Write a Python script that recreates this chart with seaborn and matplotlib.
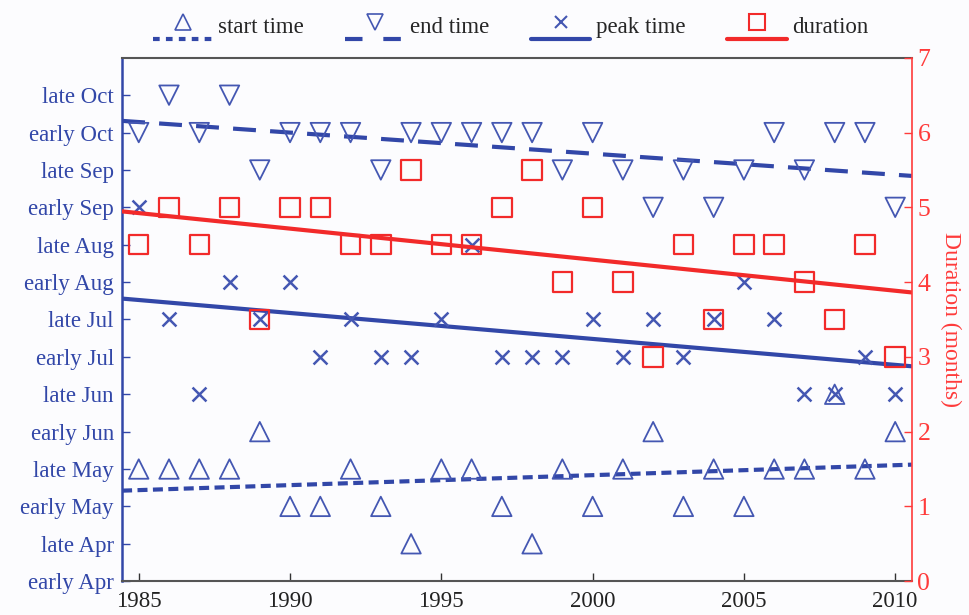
import numpy as np
import pandas as pd
import seaborn as sns
import matplotlib
matplotlib.use("Agg")
import matplotlib.pyplot as plt
from matplotlib.lines import Line2D
from matplotlib.legend_handler import HandlerBase

# ---------------- data ----------------
years = list(range(1985, 2011))
period_labels = ["early Apr", "late Apr", "early May", "late May", "early Jun", "late Jun",
                 "early Jul", "late Jul", "early Aug", "late Aug", "early Sep", "late Sep",
                 "early Oct", "late Oct"]
# index into period_labels
start_time = [3, 3, 3, 3, 4, 2, 2, 3, 2, 1, 3, 3, 2, 1, 3, 2, 3, 4, 2, 3, 2, 3, 3, 5, 3, 4]
end_time = [12, 13, 12, 13, 11, 12, 12, 12, 11, 12, 12, 12, 12, 12, 11, 12, 11, 10, 11, 10,
            11, 12, 11, 12, 12, 10]
peak_time = [10, 7, 5, 8, 7, 8, 6, 7, 6, 6, 7, 9, 6, 6, 6, 7, 6, 7, 6, 7, 8, 7, 5, 5, 6, 5]
duration = [4.5, 5, 4.5, 5, 3.5, 5, 5, 4.5, 4.5, 5.5, 4.5, 4.5, 5, 5.5, 4, 5, 4, 3, 4.5, 3.5,
            4.5, 4.5, 4, 3.5, 4.5, 3]
x_ticks = [1985, 1990, 1995, 2000, 2005, 2010]
dur_ticks = [0, 1, 2, 3, 4, 5, 6, 7]

df = pd.DataFrame({"year": years, "start": start_time, "end": end_time,
                   "peak": peak_time, "duration": duration})

# ---------------- style ----------------
sns.set_theme(style="white")
plt.rcParams["font.family"] = ["Liberation Serif", "DejaVu Serif"]

BLUE_L = "#3247a8"
BLUE_M = "#4457b2"
RED = "#f22a2a"
RED_T = "#ff3b3b"
BG = "#fcfcfe"
FS = 16.5

fig = plt.figure(figsize=(9.69, 6.15), dpi=100, facecolor=BG)
ax = fig.add_axes([0.126, 0.055, 0.815, 0.851])
ax.set_facecolor(BG)
XL = (1984.45, 2010.55)
ax.set_xlim(*XL)
ax.set_ylim(0, 14)

START_LS = (0, (2.4, 1.3))
END_LS = (0, (5.5, 3.4))
LW = 3.0

# scatter markers
sns.scatterplot(data=df, x="year", y="start", marker="^", s=14**2, facecolors="none",
                edgecolor=BLUE_M, linewidth=1.3, ax=ax, zorder=3, legend=False)
sns.scatterplot(data=df, x="year", y="end", marker="v", s=14**2, facecolors="none",
                edgecolor=BLUE_M, linewidth=1.3, ax=ax, zorder=3, legend=False)
sns.scatterplot(data=df, x="year", y="peak", marker="x", s=10**2, color=BLUE_M,
                linewidth=1.8, ax=ax, zorder=3, legend=False)

ax.set_xlim(*XL)
# trend lines
sns.regplot(data=df, x="year", y="start", scatter=False, ci=None, truncate=False, ax=ax,
            line_kws=dict(color=BLUE_L, lw=LW, linestyle=START_LS, zorder=2))
sns.regplot(data=df, x="year", y="end", scatter=False, ci=None, truncate=False, ax=ax,
            line_kws=dict(color=BLUE_L, lw=LW, linestyle=END_LS, zorder=2))
sns.regplot(data=df, x="year", y="peak", scatter=False, ci=None, truncate=False, ax=ax,
            line_kws=dict(color=BLUE_L, lw=LW, linestyle="-", zorder=2))

ax.set_xlim(*XL)
ax.set_ylim(0, 14)
ax.set_yticks(range(len(period_labels)))
ax.set_yticklabels(period_labels)
ax.set_xticks(x_ticks)
ax.set_xlabel("")
ax.set_ylabel("")
ax.tick_params(axis="y", direction="in", length=6, width=1, colors=BLUE_L, labelsize=FS,
               pad=6, left=True)
ax.tick_params(axis="x", direction="in", length=6, width=1, colors="#333333",
               labelcolor="#222222", labelsize=FS, pad=7, bottom=True)
for sp in ["top", "bottom"]:
    ax.spines[sp].set_color("#555555")
    ax.spines[sp].set_linewidth(1.5)
ax.spines["left"].set_color(BLUE_L)
ax.spines["left"].set_linewidth(1.8)
ax.spines["right"].set_visible(False)

# twin axis for duration
ax2 = ax.twinx()
ax2.set_xlim(*XL)
ax2.set_ylim(0, 7)
sns.scatterplot(data=df, x="year", y="duration", marker="s", s=14**2, facecolors="none",
                edgecolor=RED, linewidth=1.6, ax=ax2, zorder=3, legend=False)
ax2.set_xlim(*XL)
sns.regplot(data=df, x="year", y="duration", scatter=False, ci=None, truncate=False, ax=ax2,
            line_kws=dict(color=RED, lw=LW, linestyle="-", zorder=2))
ax2.set_xlim(*XL)
ax2.set_ylim(0, 7)
ax2.set_yticks(dur_ticks)
ax2.set_ylabel("Duration (months)", color=RED_T, fontsize=FS + 0.5, rotation=270,
               labelpad=22)
ax2.set_xlabel("")
ax2.tick_params(axis="y", direction="in", length=6, width=1, colors=RED_T, labelsize=FS + 2,
                pad=4, right=True)
ax2.spines["right"].set_color(RED_T)
ax2.spines["right"].set_linewidth(1.2)
for sp in ["top", "bottom", "left"]:
    ax2.spines[sp].set_visible(False)


# ---------------- legend ----------------
class RaisedMarkerHandler(HandlerBase):
    def create_artists(self, legend, orig_handle, xdescent, ydescent, width, height,
                       fontsize, trans):
        y_mid = -ydescent + height / 2.0
        yl = y_mid - 0.62 * fontsize
        ym = y_mid + 0.12 * fontsize
        x0 = -xdescent
        line = Line2D([x0, x0 + width], [yl, yl], color=orig_handle.get_color(),
                      lw=orig_handle.get_linewidth(),
                      linestyle=getattr(orig_handle, "ls_spec", "-"))
        mk = Line2D([x0 + width / 2.0], [ym], marker=orig_handle.get_marker(),
                    markersize=orig_handle.get_markersize(),
                    markerfacecolor="none",
                    markeredgecolor=orig_handle.get_markeredgecolor(),
                    markeredgewidth=orig_handle.get_markeredgewidth(), linestyle="none")
        line.set_transform(trans)
        mk.set_transform(trans)
        return [line, mk]


def make_handle(color, ls, marker, ms, mec, mew):
    hd = Line2D([], [], color=color, lw=LW, linestyle=ls, marker=marker, markersize=ms,
                markeredgecolor=mec, markeredgewidth=mew)
    hd.ls_spec = ls
    return hd


handles = [
    make_handle(BLUE_L, (0, (1.6, 1.5)), "^", 11, BLUE_M, 1.2),
    make_handle(BLUE_L, (0, (4.2, 5.0)), "v", 11, BLUE_M, 1.2),
    make_handle(BLUE_L, "-", "x", 8, BLUE_M, 1.5),
    make_handle(RED, "-", "s", 11, RED, 1.5),
]
labels = ["start time", "end time", "peak time", "duration"]
h = RaisedMarkerHandler()
fig.legend(handles, labels, loc="center", bbox_to_anchor=(0.527, 0.955), ncol=4,
           frameon=False, fontsize=FS, handlelength=2.6, handletextpad=0.25,
           columnspacing=1.8, handler_map={Line2D: h})

fig.savefig("out.png", dpi=100, facecolor=BG)
